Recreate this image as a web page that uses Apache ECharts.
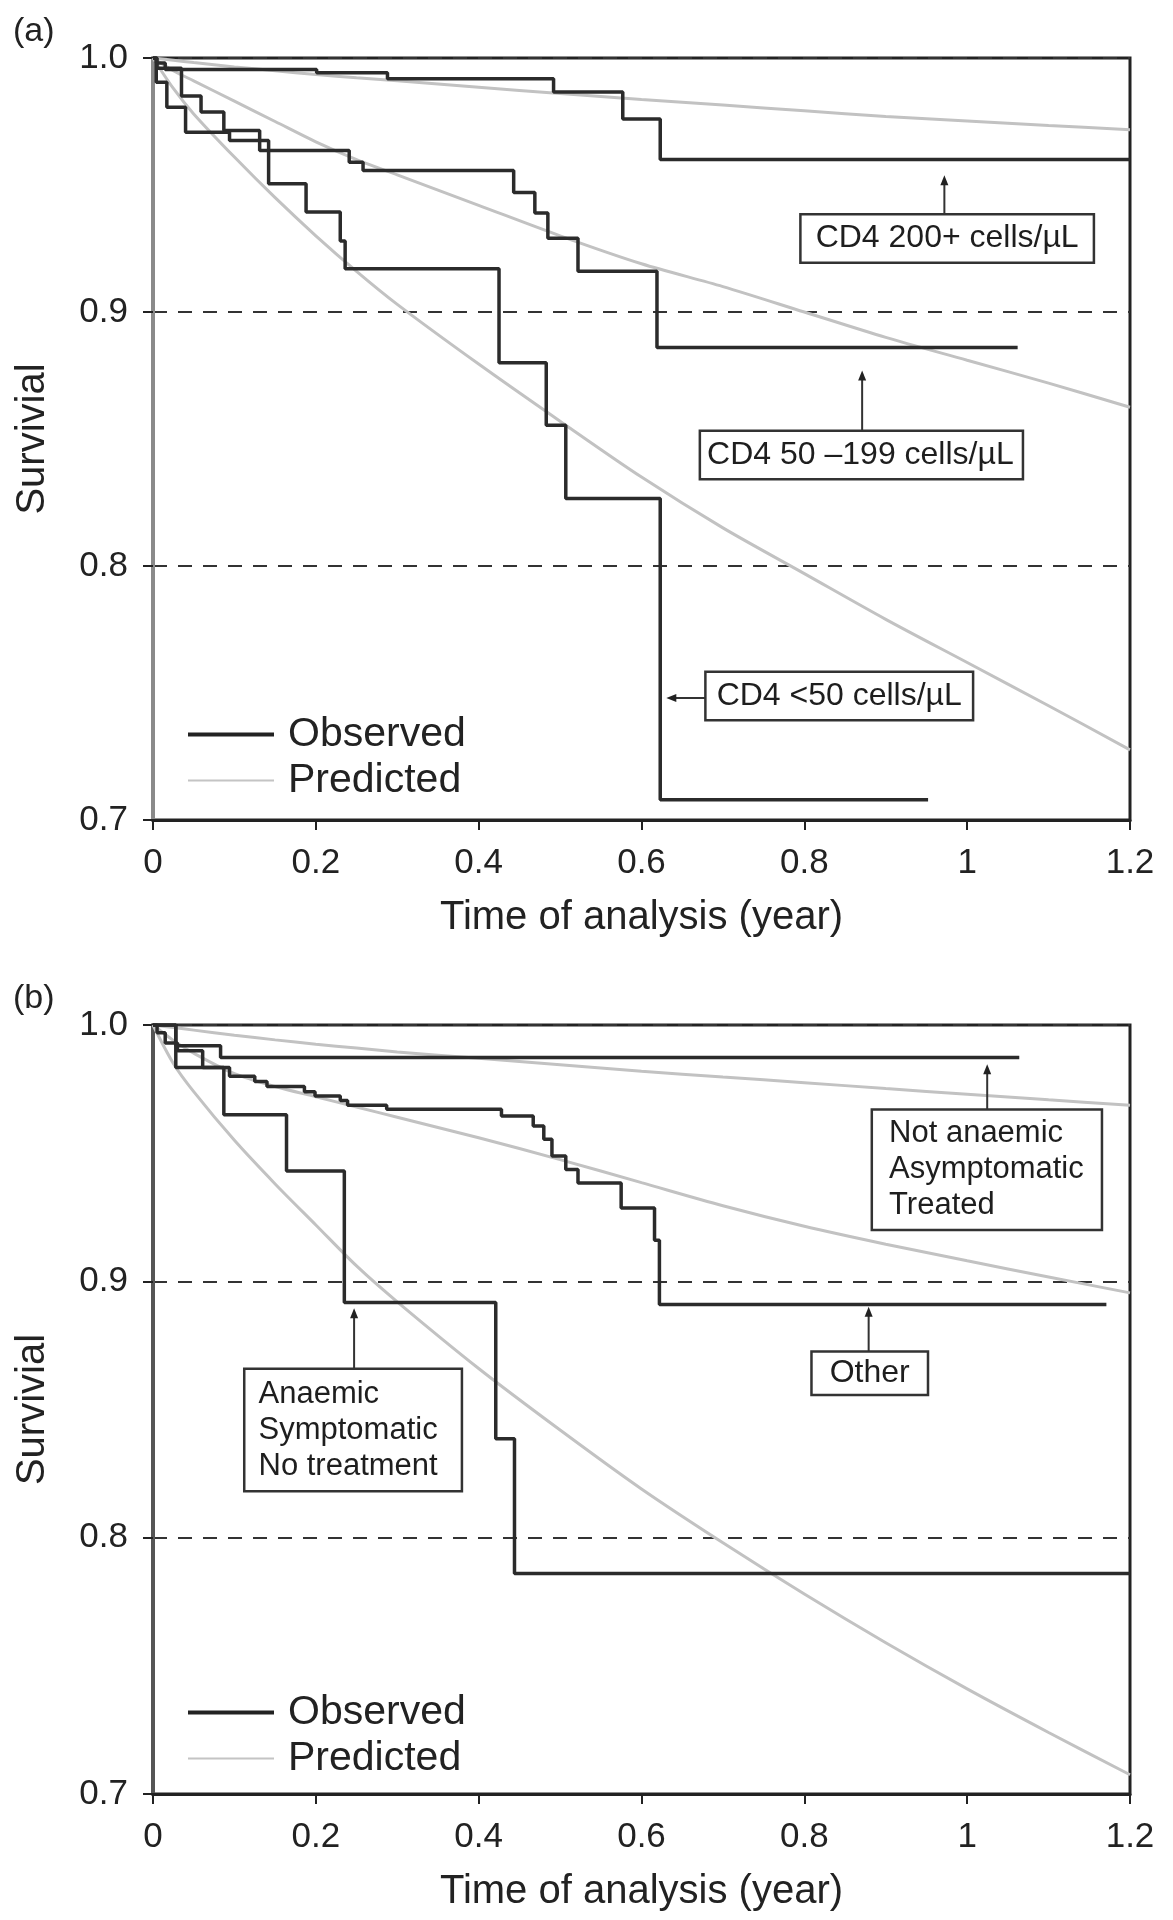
<!DOCTYPE html>
<html><head><meta charset="utf-8">
<script src="https://cdn.jsdelivr.net/npm/echarts@6/dist/echarts.min.js"></script>
<style>html,body{margin:0;padding:0;background:#fff}#c{width:1173px;height:1920px}</style>
</head><body><div id="c"></div>
<script>
// ---------- tick labels ----------
const xTickLabels = ['0', '0.2', '0.4', '0.6', '0.8', '1', '1.2'];
const panelLabels = ['(a)', '(b)'];

// ---------- panel (a): observed Kaplan-Meier steps [time, survival] ----------
const obsA_CD4_200plus = [[0,1.0],[0.004,0.998],[0.015,0.9955],[0.201,0.9942],[0.288,0.9918],[0.492,0.9866],[0.577,0.976],[0.623,0.960],[1.2,0.960]];
const obsA_CD4_50_199 = [[0,1.0],[0.005,0.996],[0.035,0.985],[0.059,0.9787],[0.087,0.9715],[0.131,0.9636],[0.241,0.959],[0.258,0.9557],[0.443,0.947],[0.469,0.939],[0.485,0.929],[0.522,0.916],[0.619,0.886],[1.062,0.886]];
const obsA_CD4_lt50 = [[0,1.0],[0.004,0.9905],[0.017,0.9806],[0.04,0.9708],[0.094,0.9675],[0.142,0.9505],[0.188,0.9394],[0.23,0.928],[0.236,0.917],[0.425,0.880],[0.483,0.8554],[0.507,0.8266],[0.623,0.708],[0.952,0.708]];

// ---------- predicted curves (shared time grid) ----------
const predTime = [0, 0.025, 0.05, 0.1, 0.15, 0.2, 0.25, 0.3, 0.4, 0.5, 0.6, 0.7, 0.8, 0.9, 1.0, 1.1, 1.2];
const predA_CD4_200plus = [1.0, 0.9991, 0.9982, 0.9965, 0.995, 0.9935, 0.9922, 0.991, 0.9885, 0.986, 0.9837, 0.9815, 0.9792, 0.977, 0.9752, 0.9734, 0.9718];
const predA_CD4_50_199 = [1.0, 0.995, 0.991, 0.983, 0.975, 0.967, 0.960, 0.954, 0.942, 0.930, 0.919, 0.910, 0.900, 0.890, 0.881, 0.872, 0.8625];
const predA_CD4_lt50 = [1.0, 0.988, 0.978, 0.961, 0.945, 0.930, 0.916, 0.903, 0.8795, 0.857, 0.835, 0.815, 0.797, 0.779, 0.762, 0.745, 0.7276];

// ---------- panel (b): observed ----------
const obsB_NotAnaemic = [[0,1.0],[0.028,0.9919],[0.083,0.9873],[1.064,0.9873]];
const obsB_Other = [[0,1.0],[0.005,0.997],[0.015,0.993],[0.03,0.990],[0.061,0.9834],[0.094,0.980],[0.125,0.978],[0.14,0.976],[0.186,0.974],[0.199,0.9723],[0.23,0.9705],[0.239,0.9687],[0.287,0.9671],[0.428,0.9645],[0.467,0.9606],[0.48,0.9554],[0.49,0.9489],[0.507,0.9436],[0.522,0.9384],[0.575,0.9286],[0.616,0.916],[0.622,0.891],[1.171,0.891]];
const obsB_Anaemic = [[0,1.0],[0.028,0.9834],[0.087,0.965],[0.164,0.943],[0.235,0.8917],[0.421,0.8386],[0.444,0.786],[1.2,0.786]];

// ---------- panel (b): predicted ----------
const predB_NotAnaemic = [1.0, 0.999, 0.998, 0.996, 0.9942, 0.9925, 0.991, 0.9895, 0.987, 0.9845, 0.982, 0.9797, 0.9775, 0.9752, 0.973, 0.9708, 0.9687];
const predB_Other = [1.0, 0.994, 0.989, 0.981, 0.976, 0.972, 0.968, 0.964, 0.956, 0.9475, 0.9385, 0.9295, 0.9215, 0.9145, 0.908, 0.9017, 0.8955];
const predB_Anaemic = [1.0, 0.985, 0.974, 0.955, 0.938, 0.922, 0.906, 0.892, 0.866, 0.842, 0.819, 0.798, 0.778, 0.759, 0.741, 0.724, 0.7075];

// ---------- annotation texts ----------
const annotText = ['CD4 200+ cells/µL', 'CD4 50 –199 cells/µL', 'CD4 <50 cells/µL',
  'Not anaemic\nAsymptomatic\nTreated', 'Anaemic\nSymptomatic\nNo treatment', 'Other'];
const annotGrid = [0, 0, 0, 1, 1, 1];

// annotation layout (data coordinates)
const annotLayout = [
  {box: [0.7967, 0.938], from: [0.972, 0.938], to: [0.972, 0.9538], pad: [6, 14, 6, 14]},
  {box: [0.6732, 0.8528], from: [0.871, 0.8528], to: [0.871, 0.877], pad: [6, 8, 6, 6]},
  {box: [0.680, 0.7579], from: [0.680, 0.748], to: [0.6305, 0.748], pad: [6, 10, 6, 10]},
  {box: [0.8844, 0.9665], from: [1.0246, 0.9665], to: [1.0246, 0.9847], pad: [5, 17, 5, 16]},
  {box: [0.1136, 0.8654], from: [0.247, 0.8654], to: [0.247, 0.8895], pad: [6, 23, 6, 13]},
  {box: [0.8103, 0.8721], from: [0.879, 0.8721], to: [0.879, 0.8901], pad: [3, 17, 4, 17]}
];

const FONT = '"Liberation Sans", Arial, Helvetica, sans-serif';
const chart = echarts.init(document.getElementById('c'), null, {renderer: 'canvas'});

function zip(t, v) { return t.map((x, i) => [x, v[i]]); }
function obs(data, gi) {
  return {type: 'line', name: 'Observed', xAxisIndex: gi, yAxisIndex: gi, data: data, step: 'end',
    symbol: 'none', z: 5, lineStyle: {color: '#2b2b2b', width: 3.5}, itemStyle: {color: '#2b2b2b'}};
}
function pred(vals, gi) {
  return {type: 'line', name: 'Predicted', xAxisIndex: gi, yAxisIndex: gi, data: zip(predTime, vals),
    smooth: 0.3, symbol: 'none', z: 3,
    lineStyle: {color: '#c2c2c2', width: 3}, itemStyle: {color: '#c2c2c2'}};
}
function xAxis(gi) {
  return {type: 'value', gridIndex: gi, min: 0, max: 1.2, interval: 0.2,
    name: 'Time of analysis (year)', nameLocation: 'middle', nameGap: 78,
    nameTextStyle: {fontSize: 40, color: '#222', fontFamily: FONT},
    axisLine: {show: true, lineStyle: {color: '#222', width: 3}},
    axisTick: {show: true, inside: false, length: 10, lineStyle: {color: '#222', width: 2}},
    axisLabel: {fontSize: 35, color: '#222', fontFamily: FONT, margin: 26,
      formatter: (v) => xTickLabels[Math.round(v / 0.2)]},
    splitLine: {show: false}};
}
function yAxis(gi, axisColor) {
  return {type: 'value', gridIndex: gi, min: 0.7, max: 1.0, interval: 0.1,
    name: 'Survivial', nameLocation: 'middle', nameGap: 100, nameRotate: 90,
    nameTextStyle: {fontSize: 40, color: '#222', fontFamily: FONT},
    axisLine: {show: true, lineStyle: {color: axisColor, width: 4}},
    axisTick: {show: true, inside: false, length: 10, lineStyle: {color: '#222', width: 2}},
    axisLabel: {fontSize: 35, color: '#222', fontFamily: FONT, margin: 25,
      formatter: (v) => v.toFixed(1)},
    splitLine: {show: true, lineStyle: {color: '#333', width: 2, type: [14, 11]}}};
}
function legend(top) {
  return {orient: 'vertical', left: 188, top: top, padding: 0, itemWidth: 86, itemHeight: 14, itemGap: 5,
    selectedMode: false,
    textStyle: {fontSize: 41, color: '#222', fontFamily: FONT, padding: [0, 0, 0, 9]},
    data: [
      {name: 'Observed', icon: 'path://M0,0 L86,0 L86,4 L0,4 Z', itemStyle: {color: '#222'}},
      {name: 'Predicted', icon: 'path://M0,0 L86,0 L86,2 L0,2 Z', itemStyle: {color: '#c4c4c4'}}
    ]};
}

const option = {
  animation: false,
  backgroundColor: '#fff',
  title: [
    {text: panelLabels[0], left: 8, top: 10, textStyle: {fontSize: 34, fontWeight: 'normal', color: '#222', fontFamily: FONT}},
    {text: panelLabels[1], left: 8, top: 977, textStyle: {fontSize: 34, fontWeight: 'normal', color: '#222', fontFamily: FONT}}
  ],
  grid: [
    {left: 153, right: 43, top: 58, height: 762, show: true, borderColor: '#222', borderWidth: 3, backgroundColor: 'transparent'},
    {left: 153, right: 43, top: 1025, height: 769, show: true, borderColor: '#222', borderWidth: 3, backgroundColor: 'transparent'}
  ],
  xAxis: [xAxis(0), xAxis(1)],
  yAxis: [yAxis(0, '#8a8a8a'), yAxis(1, '#555')],
  legend: [legend(714), legend(1692)],
  series: [
    pred(predA_CD4_200plus, 0), pred(predA_CD4_50_199, 0), pred(predA_CD4_lt50, 0),
    obs(obsA_CD4_200plus, 0), obs(obsA_CD4_50_199, 0), obs(obsA_CD4_lt50, 0),
    pred(predB_NotAnaemic, 1), pred(predB_Other, 1), pred(predB_Anaemic, 1),
    obs(obsB_NotAnaemic, 1), obs(obsB_Other, 1), obs(obsB_Anaemic, 1)
  ]
};
chart.setOption(option);

// annotations: boxes and arrows placed via the axes' own scales
const graphics = [];
annotText.forEach((txt, i) => {
  const gi = annotGrid[i], L = annotLayout[i];
  const b = chart.convertToPixel({gridIndex: gi}, L.box);
  const f = chart.convertToPixel({gridIndex: gi}, L.from);
  const t = chart.convertToPixel({gridIndex: gi}, L.to);
  const multi = txt.indexOf('\n') >= 0;
  graphics.push({type: 'text', x: b[0], y: b[1], z: 100,
    style: {text: txt, font: (multi ? '31px ' : '32px ') + FONT, fill: '#1e1e1e', align: 'left', verticalAlign: 'top',
      lineHeight: multi ? 36 : 34, backgroundColor: '#fff', borderColor: '#333', borderWidth: 2.5, padding: L.pad}});
  const dx = t[0] - f[0], dy = t[1] - f[1], len = Math.sqrt(dx * dx + dy * dy) || 1;
  const ux = dx / len, uy = dy / len, nx = -uy, ny = ux;
  graphics.push({type: 'line', z: 99, shape: {x1: f[0], y1: f[1], x2: t[0] - ux * 4, y2: t[1] - uy * 4},
    style: {stroke: '#333', lineWidth: 2}});
  graphics.push({type: 'polygon', z: 99, shape: {points: [
      [t[0], t[1]], [t[0] - ux * 10 + nx * 4, t[1] - uy * 10 + ny * 4], [t[0] - ux * 10 - nx * 4, t[1] - uy * 10 - ny * 4]]},
    style: {fill: '#222'}});
});
chart.setOption({graphic: graphics});
</script></body></html>
